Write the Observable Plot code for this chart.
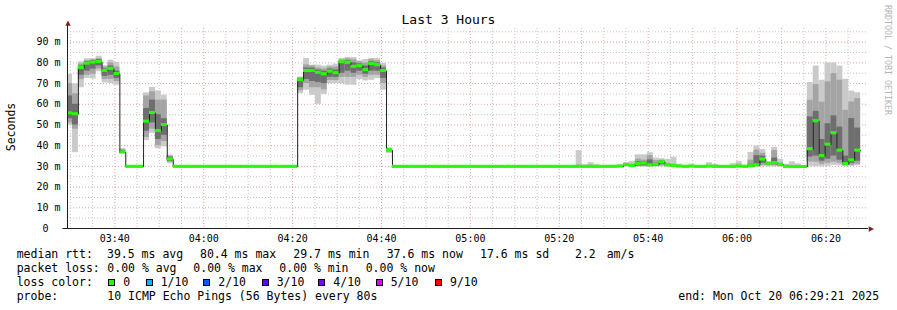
<!DOCTYPE html>
<html><head><meta charset="utf-8">
<script src="https://cdn.jsdelivr.net/npm/d3@7"></script>
<script src="https://cdn.jsdelivr.net/npm/@observablehq/plot@0.6"></script>
<style>html,body{margin:0;padding:0;background:#fff;} #chart svg{display:block;}</style>
</head><body><div id="chart"></div>
<script>
// ---------- data ----------
const title = "Last 3 Hours";
const yLabel = "Seconds";
const rangeStart = "2025-10-20T03:29:21";
const rangeEnd = "2025-10-20T06:29:21";
const firstBinStart = "2025-10-20T03:29:08";
const binSeconds = 80;
const yTicks = [0, 10, 20, 30, 40, 50, 60, 70, 80, 90];
const yTickUnit = "m";

// median rtt per 80 s bin (ms)
const median = [
 55.6, 55.2, 77.5, 79.6, 80.1, 80.4, 76.1, 77.1, 74.6, 36.7,
 29.8, 29.8, 29.8, 51.6, 55.8, 47.1, 50.0, 33.4, 29.8, 29.8,
 29.8, 29.8, 29.8, 29.8, 29.8, 29.8, 29.8, 29.8, 29.8, 29.8,
 29.8, 29.8, 29.8, 29.8, 29.8, 29.8, 29.8, 29.8, 29.8, 71.6,
 76.1, 76.1, 75.2, 74.5, 75.8, 75.0, 80.3, 80.0, 78.1, 78.4,
 76.5, 79.4, 78.9, 76.1, 37.8, 29.8, 29.8, 29.8, 29.8, 29.8,
 29.8, 29.8, 29.8, 29.8, 29.8, 29.8, 29.8, 29.8, 29.8, 29.8,
 29.8, 29.8, 29.8, 29.8, 29.8, 29.8, 29.8, 29.8, 29.8, 29.8,
 29.8, 29.8, 29.8, 29.8, 29.8, 29.8, 29.8, 29.8, 29.8, 29.8,
 29.8, 29.8, 29.8, 29.9, 30.7, 30.2, 31.2, 31.4, 30.5, 30.8,
 32.0, 30.5, 30.2, 29.9, 29.8, 29.9, 29.8, 29.8, 29.9, 29.8,
 29.8, 29.8, 29.8, 29.9, 29.8, 30.1, 30.5, 33.3, 31.4, 31.6,
 30.8, 29.8, 29.7, 29.7, 29.7, 38.3, 51.8, 35.0, 40.5, 46.0,
 37.6, 31.1, 32.9, 37.6
];
// smoke: outer (min/max), middle and inner ping bands (ms)
const smokeMin = [
 49.8, 36.6, 68, 72.5, 72.2, 75.7, 70.3, 70, 69.2, 36.2,
 null, null, null, 42.5, 46, 38.5, 39.5, 31.3, null, null,
 null, null, null, null, null, null, null, null, null, null,
 null, null, null, null, null, null, null, null, null, 65.2,
 66.8, 64.4, 60.0, 64.8, 70, 70, 70, 69.2, 69.2, 71.9,
 71.3, 71.6, 72.4, 66.8, 36.2, null, null, null, null, null,
 null, null, null, null, null, null, null, null, null, null,
 null, null, null, null, null, null, null, null, null, null,
 null, null, null, null, null, null, 29.7, 29.7, 29.7, 29.7,
 null, 29.7, 29.7, 29.7, 29.7, 29.7, 29.7, 29.7, 29.7, 29.7,
 29.8, 29.7, 29.7, 29.7, null, 29.7, 29.7, null, 29.7, 29.7,
 null, null, 29.7, 29.7, 29.7, 29.7, 29.7, 29.9, 29.8, 29.8,
 29.7, 29.7, 29.7, 29.6, null, 29.8, 29.8, 29.8, 30.0, 30.5,
 30.3, 30.0, 30.0, 30.3
];
const smokeMax = [
 74.5, 69.8, 80.5, 82, 82, 83.2, 78.6, 81.3, 80.2, 38.6,
 null, null, null, 65.5, 68.1, 66.5, 64.4, 35.4, null, null,
 null, null, null, null, null, null, null, null, null, null,
 null, null, null, null, null, null, null, null, null, 73.2,
 82.1, 78.9, 78.9, 78.4, 78.9, 79.4, 82.1, 82.6, 82.6, 81.0,
 81.6, 82.1, 82.1, 79.7, 38.9, null, null, null, null, null,
 null, null, null, null, null, null, null, null, null, null,
 null, null, null, null, null, null, null, null, null, null,
 null, null, null, null, null, null, 37.6, 30.8, 31.8, 30.8,
 null, 30.5, 30.5, 30.9, 31.8, 32.4, 35.6, 35.6, 36.6, 34.0,
 33.7, 33.4, 34.4, 31.1, null, 31.1, 30.3, null, 31.8, 31.0,
 null, null, 31.3, 32.3, 30.5, 36.8, 39.8, 38.2, 32.0, 39.2,
 33.5, 31.0, 32.2, 31.2, null, 70.5, 78.4, 71.6, 80.0, 80.0,
 78.4, 72.1, 66.4, 65.6
];
const smokeLo2 = [
 51, 48, 72, 74, 74.5, 77, 72, 72, 71, 36.4,
 null, null, null, 44, 48, 40, 42, 32, null, null,
 null, null, null, null, null, null, null, null, null, null,
 null, null, null, null, null, null, null, null, null, 66.5,
 70, 68, 68, 67, 71.5, 71.5, 73, 73, 73, 74,
 73, 74, 74, 70, 36.8, null, null, null, null, null,
 null, null, null, null, null, null, null, null, null, null,
 null, null, null, null, null, null, null, null, null, null,
 null, null, null, null, null, null, 29.7, null, 29.7, null,
 null, null, null, null, 29.9, 29.8, 29.9, 29.9, 29.9, 29.9,
 30.2, 29.9, 29.8, null, null, null, null, null, null, null,
 null, null, null, 29.8, null, 29.8, 29.8, 30.5, 30.2, 30.3,
 29.9, null, null, null, null, 32.1, 32.0, 31.0, 31.5, 32.0,
 31.5, 30.3, 30.5, 31.0
];
const smokeHi2 = [
 70, 65, 79.5, 81, 81.5, 82, 78, 80, 78, 38,
 null, null, null, 64, 66, 62, 62, 35, null, null,
 null, null, null, null, null, null, null, null, null, null,
 null, null, null, null, null, null, null, null, null, 72.8,
 79, 78.5, 77.5, 77, 78, 78, 81.5, 82, 81.5, 80.5,
 80, 81.5, 81, 78.5, 38.5, null, null, null, null, null,
 null, null, null, null, null, null, null, null, null, null,
 null, null, null, null, null, null, null, null, null, null,
 null, null, null, null, null, null, 30.6, null, 30.6, null,
 null, null, null, null, 31.2, 31.0, 33.5, 33.0, 35.2, 32.8,
 33.0, 31.5, 31.0, null, null, null, null, null, null, null,
 null, null, null, 31.0, null, 33.0, 37.9, 36.3, 31.8, 37.6,
 31.5, null, null, null, null, 61.9, 69.5, 61.0, 70.8, 74.8,
 71.6, 57.1, 61.1, 62.7
];
const smokeLo3 = [
 53, 50, 74, 76, 77, 78.5, 73.5, 74, 72.5, 36.5,
 null, null, null, 47, 51, 43, 45, 32.5, null, null,
 null, null, null, null, null, null, null, null, null, null,
 null, null, null, null, null, null, null, null, null, 68,
 72, 71, 70.5, 70, 73, 73, 75, 76, 75, 76,
 74.5, 76, 76, 72.5, 37.2, null, null, null, null, null,
 null, null, null, null, null, null, null, null, null, null,
 null, null, null, null, null, null, null, null, null, null,
 null, null, null, null, null, null, null, null, null, null,
 null, null, null, null, null, null, 30.2, 30.3, 30.1, 30.2,
 31.0, null, null, null, null, null, null, null, null, null,
 null, null, null, null, null, 29.9, 30.0, 31.5, null, 30.8,
 null, null, null, null, null, 34.5, 35.0, 32.5, 33.5, 35.0,
 33.0, 30.6, 31.5, 32.5
];
const smokeHi3 = [
 64, 60, 78.5, 80.5, 81, 81.5, 77, 78.5, 76, 37.5,
 null, null, null, 58, 62, 55, 53, 34.5, null, null,
 null, null, null, null, null, null, null, null, null, null,
 null, null, null, null, null, null, null, null, null, 72.4,
 77.5, 77.5, 76.5, 76, 77, 76.5, 81, 81, 80, 79.5,
 78.5, 80.5, 80, 77.5, 38.2, null, null, null, null, null,
 null, null, null, null, null, null, null, null, null, null,
 null, null, null, null, null, null, null, null, null, null,
 null, null, null, null, null, null, null, null, null, null,
 null, null, null, null, null, null, 32.2, 32.2, 33.1, 31.5,
 32.6, null, null, null, null, null, null, null, null, null,
 null, null, null, null, null, 31.0, 35.2, 35.0, null, 34.0,
 null, null, null, null, null, 53.9, 56.6, 43.0, 50.6, 54.4,
 49.0, 35.0, 53.1, 48.5
];

// legend texts
const legendRows = [
  ["median rtt:", "39.5 ms avg", "80.4 ms max", "29.7 ms min", "37.6 ms now", "17.6 ms sd", "2.2", "am/s"],
  ["packet loss:", "0.00 % avg", "0.00 % max", "0.00 % min", "0.00 % now"],
];
const lossLabels = ["0", "1/10", "2/10", "3/10", "4/10", "5/10", "9/10"];
const lossColors = ["#26ff00", "#00b8ff", "#0059ff", "#5e00ff", "#7e00ff", "#dd00ff", "#ff0000"];
const probeLabel = "probe:";
const probeText = "10 ICMP Echo Pings (56 Bytes) every 80s";
const endText = "end: Mon Oct 20 06:29:21 2025";
const watermark = "RRDTOOL / TOBI OETIKER";

// ---------- build ----------
const t0 = new Date(firstBinStart);
const xDomain = [new Date(rangeStart), new Date(rangeEnd)];
const bins = median.map((m, i) => ({
  start: new Date(+t0 + i * binSeconds * 1000),
  end: new Date(+t0 + (i + 1) * binSeconds * 1000),
  med: m, min: smokeMin[i], max: smokeMax[i],
  lo2: smokeLo2[i], hi2: smokeHi2[i], lo3: smokeLo3[i], hi3: smokeHi3[i]
}));
const linePts = bins.map(d => ({t: d.start, v: d.med}));
linePts.push({t: bins[bins.length - 1].end, v: bins[bins.length - 1].med});

const minorX = d3.timeMinute.every(5).range(xDomain[0], xDomain[1]).filter(d => d.getMinutes() % 20 !== 0);
const majorX = d3.timeMinute.every(20).range(xDomain[0], xDomain[1]);
const minorY = d3.range(5, 100, 5).filter(v => v % 10 !== 0);
const majorY = d3.range(10, 100, 10);

const arrowUp = {draw(c) { c.moveTo(0, -3); c.lineTo(2.7, 2.3); c.lineTo(-2.7, 2.3); c.closePath(); }};
const arrowRight = {draw(c) { c.moveTo(3, 0); c.lineTo(-2.3, 2.7); c.lineTo(-2.3, -2.7); c.closePath(); }};

const mono = "DejaVu Sans Mono";
const gridGrey = "#c4c4c4", gridRed = "#eba0a0";
const swidth = 0.75;

const chart = Plot.plot({
  width: 897, height: 310,
  marginLeft: 67, marginRight: 30, marginTop: 28, marginBottom: 82,
  style: {fontFamily: mono, background: "#fff", overflow: "visible"},
  x: {type: "time", domain: xDomain, label: null},
  y: {domain: [0, 96.6], label: null},
  marks: [
    Plot.ruleX(minorX, {stroke: gridGrey, strokeDasharray: "1,2"}),
    Plot.ruleY(minorY, {stroke: gridGrey, strokeDasharray: "1,2"}),
    Plot.ruleX(majorX, {stroke: gridRed, strokeDasharray: "1,2"}),
    Plot.ruleY(majorY, {stroke: gridRed, strokeDasharray: "1,2"}),
    Plot.rectY(bins.filter(d => d.min != null), {x1: "start", x2: "end", y1: "min", y2: "max", fill: "#cacaca", clip: true}),
    Plot.rectY(bins.filter(d => d.lo2 != null), {x1: "start", x2: "end", y1: "lo2", y2: "hi2", fill: "#a4a4a4", clip: true}),
    Plot.rectY(bins.filter(d => d.lo3 != null), {x1: "start", x2: "end", y1: "lo3", y2: "hi3", fill: "#6e6e6e", clip: true}),
    Plot.line(linePts, {x: "t", y: "v", curve: "step-after", stroke: "#202020", strokeWidth: 1, clip: true}),
    Plot.rectY(bins, {x1: "start", x2: "end", y1: d => d.med - swidth, y2: d => d.med + swidth, fill: lossColors[0], clip: true}),
    Plot.ruleY([0], {stroke: "#1f1f1f", insetLeft: -4.5, insetRight: -1}),
    Plot.ruleX([xDomain[0]], {stroke: "#1f1f1f", insetTop: -5}),
    Plot.dot([0], {x: () => xDomain[0], y: () => 96.6, symbol: arrowUp, fill: "#7f1f1f", stroke: null, dy: -5, dx: 0.5}),
    Plot.dot([0], {x: () => xDomain[1], y: () => 0, symbol: arrowRight, fill: "#7f1f1f", stroke: null, dx: 3.5, dy: 0.5}),
    Plot.axisY({ticks: yTicks, tickFormat: v => v === 0 ? "0\u00a0\u00a0" : `${v} ${yTickUnit}`, tickSize: 0, tickPadding: 7, fontSize: 10, fontFamily: mono}),
    Plot.axisX({ticks: d3.timeMinute.every(20), tickFormat: d3.timeFormat("%H:%M"), tickSize: 0, tickPadding: 6.5, fontSize: 10, fontFamily: mono})
  ]
});
document.getElementById("chart").appendChild(chart);

// ---------- texts ----------
const svg = d3.select(chart);
function txt(x, y, s, o = {}) {
  const t = svg.append("text")
    .attr("x", x).attr("y", y)
    .attr("font-family", mono)
    .attr("font-size", o.size || 11.5)
    .attr("fill", o.fill || "#000")
    .attr("text-anchor", o.anchor || "start")
    .text(s);
  if (o.transform) t.attr("transform", o.transform).attr("x", 0).attr("y", 0);
  return t;
}
txt(448.5, 23.5, title, {size: 13, anchor: "middle"});
txt(0, 0, yLabel, {anchor: "middle", transform: "translate(15,127) rotate(-90)"});
txt(0, 0, watermark, {size: 8.3, fill: "#b4b4b4", transform: "translate(885,5) rotate(90)"});

const rowY = [258.4, 272.3, 286.2, 300.1];
const row1X = [16.7, 107, 200, 293.3, 386.7, 480, 575, 606.7];
const row2X = [16.7, 107.3, 193.3, 279.3, 365.7];
legendRows[0].forEach((s, i) => txt(row1X[i], rowY[0], s));
legendRows[1].forEach((s, i) => txt(row2X[i], rowY[1], s));
txt(16.7, rowY[2], "loss color:");
const swX = [108.3, 145.7, 203.3, 261.7, 318.3, 375.7, 435];
lossLabels.forEach((s, i) => {
  svg.append("rect").attr("x", Math.round(swX[i]) + 0.5).attr("y", 279.5).attr("width", 6).attr("height", 6)
    .attr("fill", lossColors[i]).attr("stroke", "#000").attr("stroke-width", 1);
  txt(swX[i] + 15, rowY[2], s);
});
txt(16.7, rowY[3], probeLabel);
txt(107.3, rowY[3], probeText);
txt(678.3, rowY[3], endText);
</script>
</body></html>
